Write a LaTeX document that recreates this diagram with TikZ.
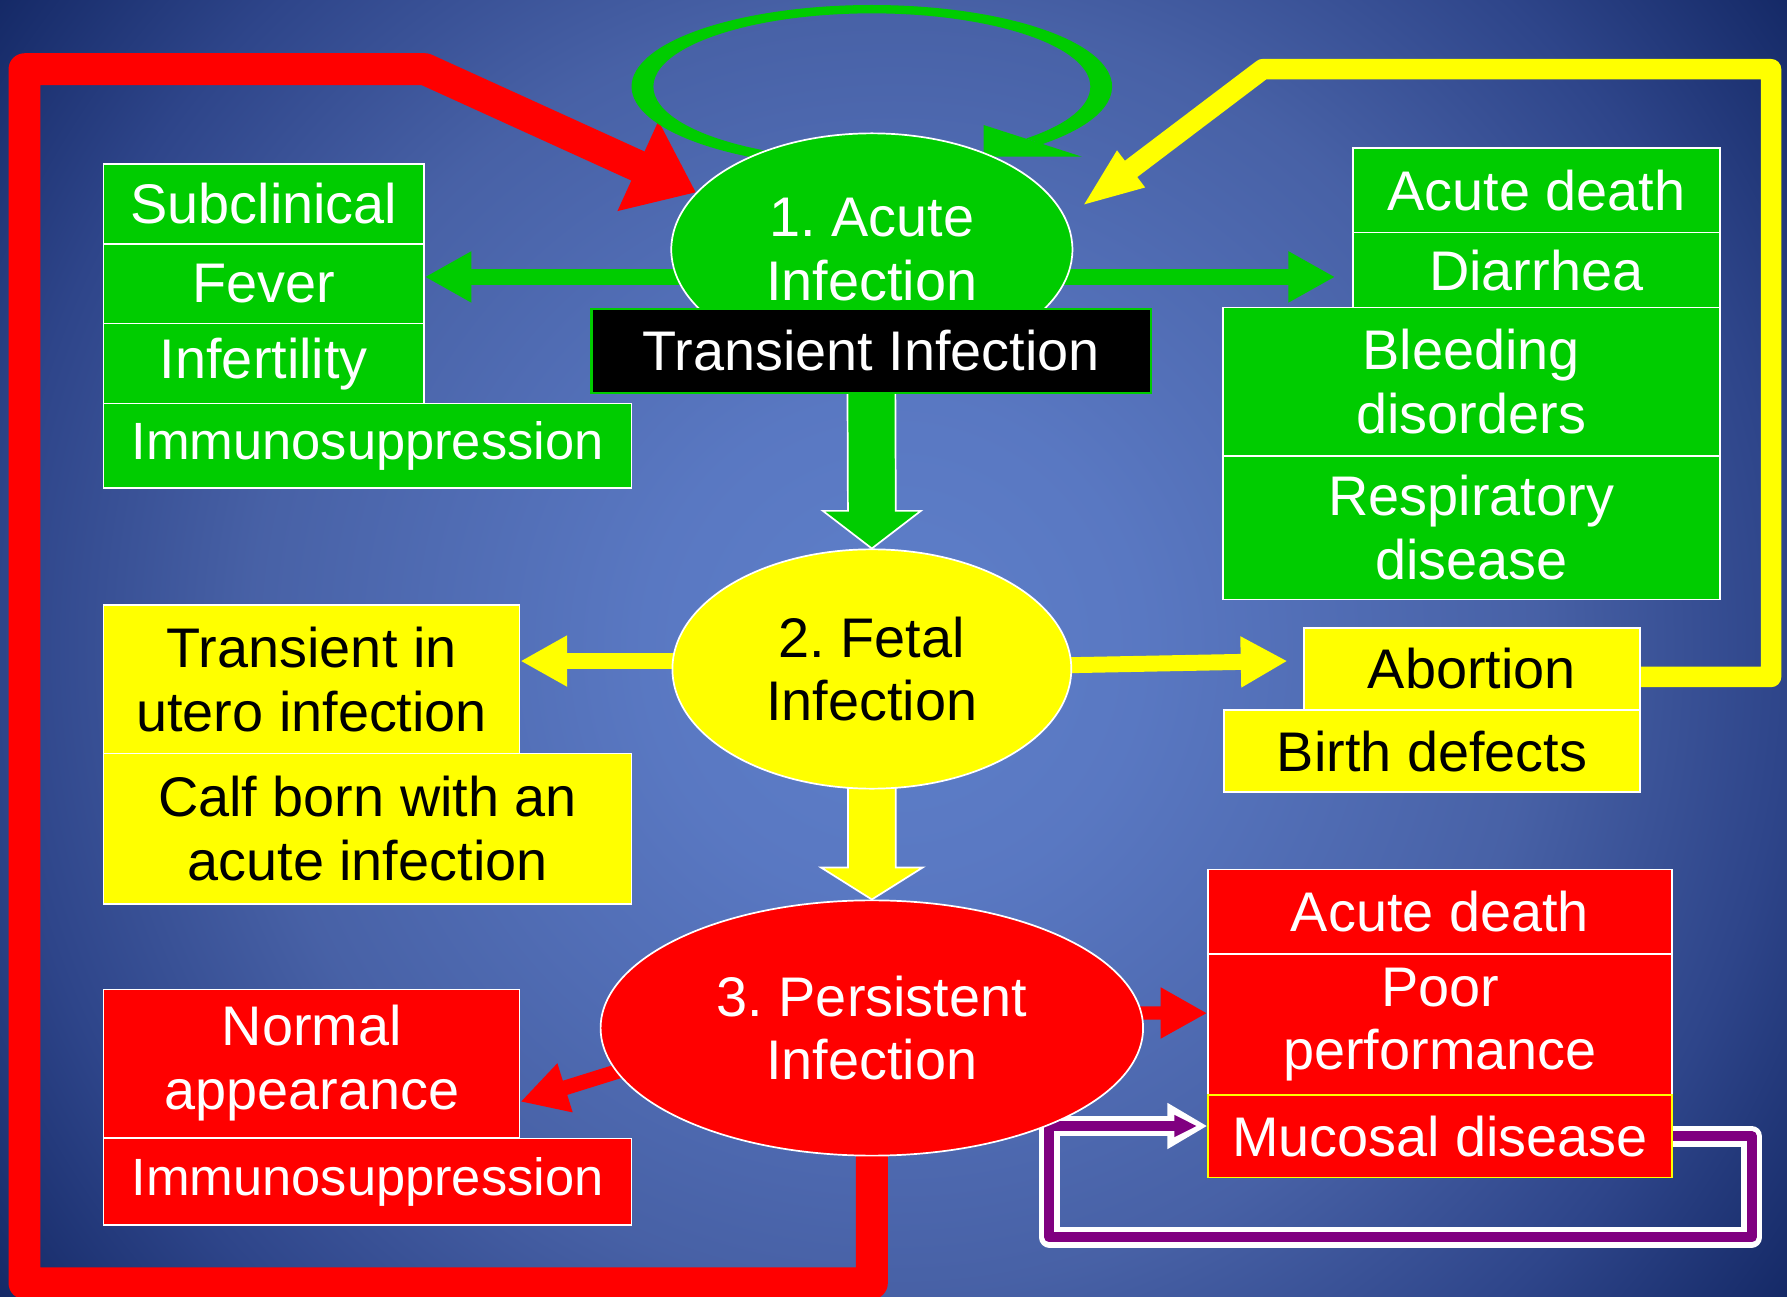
\documentclass[tikz,border=0pt]{standalone}
\usepackage{fontspec}
\setmainfont{Liberation Sans}
\usetikzlibrary{shapes.geometric,arrows.meta,calc}
\definecolor{grn}{HTML}{00CC00}
\definecolor{rd}{HTML}{FF0000}
\definecolor{yl}{HTML}{FFFF00}
\definecolor{pu}{HTML}{800080}
\pgfdeclarelayer{back}
\pgfdeclarelayer{mid}
\pgfsetlayers{back,mid,main}
\pgfdeclareradialshading{bgshade}{\pgfpoint{0bp}{0bp}}{rgb(0bp)=(0.37,0.50,0.79); rgb(7bp)=(0.35,0.47,0.76); rgb(18bp)=(0.28,0.38,0.65); rgb(25bp)=(0.18,0.27,0.54); rgb(31bp)=(0.08,0.16,0.40); rgb(50bp)=(0.07,0.14,0.37)}
\newcommand\fs{\fontsize{49}{56}\selectfont}
\newcommand\fsm{\fontsize{46}{56}\selectfont}
\newcommand\mybox[7]{\node[#2, minimum width={#5-#3}, minimum height={#6-#4}] (#1) at ({(#3+#5)/2},{(#4+#6)/2}) {#7};}
\frenchspacing
\begin{document}
\begin{tikzpicture}[x=1pt,y=-1pt,
  bx/.style={rectangle, draw=white, line width=1.3pt, inner sep=0pt, align=center, font=\fs},
  ell/.style={ellipse, draw=white, line width=1.5pt, inner sep=0pt, align=center, font=\fs},
  gb/.style={bx, fill=grn, text=white},
  yb/.style={bx, fill=yl, text=black},
  rb/.style={bx, fill=rd, text=white},
  tharrow/.style={line width=#1, -{Triangle[length=41pt,width=42pt]}},
  blk/.style={draw=white, line width=1.5pt, line join=miter},
]
\useasboundingbox (0,0) rectangle (1568,1138);
\begin{pgfonlayer}{back}
\begin{scope}
\clip (0,0) rectangle (1568,1138);
\shade[shading=bgshade] (0,-215) rectangle (1568,1353);
\end{scope}
\end{pgfonlayer}

% ---- ellipses ----
\node[ell, fill=grn, text=white, minimum width=352pt, minimum height=204pt] (acute) at (765,219) {1. Acute\\Infection};
\node[ell, fill=yl, text=black, minimum width=350pt, minimum height=210pt] (fetal) at (765,587) {2. Fetal\\Infection};
\node[ell, fill=rd, text=white, minimum width=476pt, minimum height=224pt] (pers) at (765,902) {3. Persistent\\Infection};
\mybox{trans}{bx, fill=black, draw=grn, text=white, line width=2pt}{519}{271}{1010}{345}{Transient Infection}

% ---- green boxes ----
\mybox{sub}{gb}{91}{144}{372}{214}{Subclinical}
\mybox{fever}{gb}{91}{214}{372}{284}{Fever}
\mybox{infert}{gb}{91}{284}{372}{354}{Infertility}
\mybox{immA}{gb, font=\fsm}{91}{354}{554}{428}{Immunosuppression}
\mybox{adeathA}{gb}{1187}{130}{1509}{204}{Acute death}
\mybox{diarr}{gb}{1187}{204}{1509}{270}{Diarrhea}
\mybox{bleed}{gb}{1073}{270}{1509}{400}{Bleeding\\disorders}
\mybox{resp}{gb}{1073}{400}{1509}{526}{Respiratory\\disease}

% ---- yellow boxes ----
\mybox{utero}{yb}{91}{531}{456}{661}{Transient in\\utero infection}
\mybox{calf}{yb}{91}{661}{554}{793}{Calf born with an\\acute infection}
\mybox{abort}{yb}{1144}{551}{1439}{623}{Abortion}
\mybox{birth}{yb}{1074}{623}{1439}{695}{Birth defects}

% ---- red boxes ----
\mybox{adeathB}{rb}{1060}{763}{1467}{837}{Acute death}
\mybox{poor}{rb}{1060}{837}{1467}{961}{Poor\\performance}
\mybox{muc}{rb, draw=yl}{1060}{961}{1467}{1033}{Mucosal disease}
\mybox{normal}{rb}{91}{868}{456}{998}{Normal\\appearance}
\mybox{immR}{rb, font=\fsm}{91}{999}{554}{1075}{Immunosuppression}

\coordinate (ytip) at (948.6,181.4);
\coordinate (gtipR) at (1171.5,243);
\coordinate (ytipR) at (1129.7,580);
\coordinate (rstart) at (649,906.7);

\begin{pgfonlayer}{mid}
% red loop back to acute infection
\draw[rd, line width=28pt, line join=round, -{Triangle[length=56pt,width=83pt]}]
  (pers.center) -- (765,1126) -- (21.5,1126) -- (21.5,60.7) -- (373,60.7) -- (acute.162);
% green self loop
\fill[grn] (765,76) ++(110:210.8 and 71.6) arc[start angle=110,end angle=405,x radius=210.8,y radius=71.6]
  -- ($(765,76)+(405:191.7 and 64.3)$) arc[start angle=405,end angle=110,x radius=191.7,y radius=64.3] -- cycle;
\fill[grn] (863.1,109.7) -- (949.3,137.5) -- (863.1,137.5) -- cycle;
% yellow loop from abortion
\draw[yl, line width=18pt, line join=round, -{Triangle[length=55pt,width=36pt]}]
  ($(abort.east)+(0,7)$) -- (1554,594) -- (1554,60.7) -- (1108,60.7) -- (ytip);
% purple loop on mucosal disease
\draw[white, line width=18pt, line join=round, -{Triangle[length=35pt,width=38pt]}]
  (muc.east) -- (1537,997) -- (1537,1085.6) -- (920.7,1085.6) -- (920.7,988) -- ($(muc.west)+(0,-9)$);
\draw[pu, line width=9pt, line join=round, shorten >=9pt, -{Triangle[length=20pt,width=18pt]}]
  (muc.east) -- (1537,997) -- (1537,1085.6) -- (920.7,1085.6) -- (920.7,988) -- ($(muc.west)+(0,-9)$);
% thin arrows
\draw[grn, tharrow=13.8pt] ($(acute.center)+(0,24)$) -- ($(fever.east)+(0,-6)$);
\draw[grn, tharrow=13.8pt] ($(acute.center)+(0,24)$) -- (gtipR);
\draw[yl, tharrow=13.2pt] ($(fetal.center)+(0,-7)$) -- ($(utero.east)+(0,-16)$);
\draw[yl, tharrow=14pt] (fetal.center) -- (ytipR);
\draw[rd, tharrow=11.7pt] ($(pers.center)+(0,-14)$) -- ($(poor.west)+(0,-10)$);
\draw[rd, tharrow=13pt] (rstart) -- ($(normal.east)+(0,33.7)$);
% block arrows
\draw[blk, fill=grn] ($(trans.center)+(-21,0)$) -- ($(fetal.north)+(-21,-33)$) -- ($(fetal.north)+(-43,-33)$)
  -- (fetal.north) -- ($(fetal.north)+(43,-33)$) -- ($(fetal.north)+(21,-33)$) -- ($(trans.center)+(21,0)$) -- cycle;
\draw[blk, fill=yl] ($(fetal.center)+(-21,0)$) -- ($(pers.north)+(-21,-28)$) -- ($(pers.north)+(-44.5,-28)$)
  -- (pers.north) -- ($(pers.north)+(44.5,-28)$) -- ($(pers.north)+(21,-28)$) -- ($(fetal.center)+(21,0)$) -- cycle;
\end{pgfonlayer}
\end{tikzpicture}
\end{document}
